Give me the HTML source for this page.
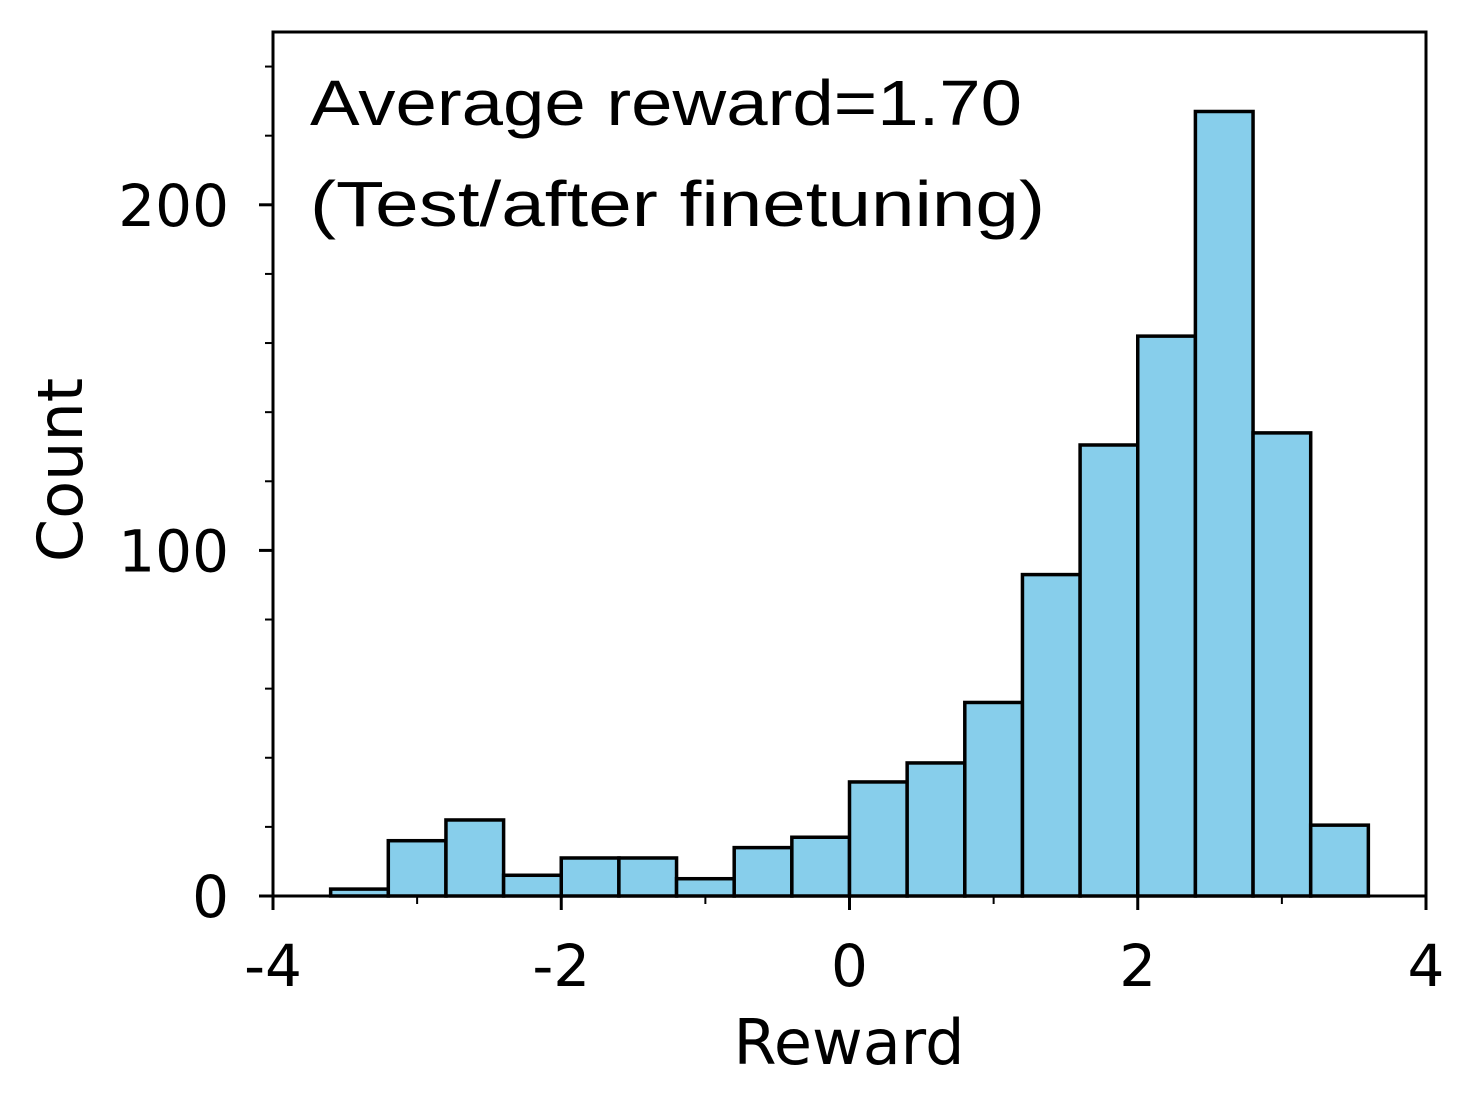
<!DOCTYPE html>
<html><head><meta charset="utf-8"><style>
html,body{margin:0;padding:0;background:#fff;}
svg{display:block;}
</style></head><body>
<svg id="chart" width="1480" height="1109" xmlns="http://www.w3.org/2000/svg">
<text x="310" y="125" font-family="Liberation Sans, sans-serif" font-size="64" textLength="712" lengthAdjust="spacingAndGlyphs">Average reward=1.70</text>
<text x="310" y="226" font-family="Liberation Sans, sans-serif" font-size="64" textLength="735" lengthAdjust="spacingAndGlyphs">(Test/after finetuning)</text>
<text x="849" y="1064" text-anchor="middle" font-family="DejaVu Sans, sans-serif" font-size="62">Reward</text>
<text transform="translate(82,470) rotate(-90)" text-anchor="middle" font-family="DejaVu Sans, sans-serif" font-size="62">Count</text>
</svg>
<script>
const binStarts = [-3.6,-3.2,-2.8,-2.4,-2.0,-1.6,-1.2,-0.8,-0.4,0.0,0.4,0.8,1.2,1.6,2.0,2.4,2.8,3.2];
const counts = [2,16,22,6,11,11,5,14,17,33,38.5,56,93,130.5,162,227,134,20.5];
const binWidth = 0.4;
const xTicks = [-4,-2,0,2,4];
const xTickLabels = ["-4","-2","0","2","4"];
const xMinor = [-3,-1,1,3];
const yTicks = [0,100,200];
const yTickLabels = ["0","100","200"];
const yMinor = [20,40,60,80,120,140,160,180,220,240];

const L=273,R=1426,T=32,B=896;
const xmin=-4,xmax=4,ymin=0,ymax=250;
const sx=v=>L+(v-xmin)/(xmax-xmin)*(R-L);
const sy=v=>B-(v-ymin)/(ymax-ymin)*(B-T);
const svg=document.getElementById('chart');
const NS='http://www.w3.org/2000/svg';
function mk(tag,attrs){const e=document.createElementNS(NS,tag);for(const k in attrs)e.setAttribute(k,attrs[k]);svg.appendChild(e);return e;}

binStarts.forEach((s,i)=>{
  const x0=sx(s),x1=sx(s+binWidth),y=sy(counts[i]);
  const r=mk('rect',{x:x0,y:y,width:x1-x0,height:B-y,fill:'#87ceeb',stroke:'#000','stroke-width':3.5});
  
  
});
const frame=mk('rect',{x:L,y:T,width:R-L,height:B-T,fill:'none',stroke:'#000','stroke-width':3});



xTicks.forEach((v,i)=>{
  const t=mk('line',{x1:sx(v),x2:sx(v),y1:B,y2:B+14,stroke:'#000','stroke-width':3});
  
  
  const tx=mk('text',{x:sx(v),y:B+90,'text-anchor':'middle','font-family':'DejaVu Sans, sans-serif','font-size':58});
  tx.textContent=xTickLabels[i];
  
  
});
xMinor.forEach(v=>{
  const t=mk('line',{x1:sx(v),x2:sx(v),y1:B,y2:B+8,stroke:'#000','stroke-width':2});
  
  
});
yTicks.forEach((v,i)=>{
  const t=mk('line',{x1:L-14,x2:L,y1:sy(v),y2:sy(v),stroke:'#000','stroke-width':3});
  
  
  const tx=mk('text',{x:L-44,y:sy(v)+21,'text-anchor':'end','font-family':'DejaVu Sans, sans-serif','font-size':58});
  tx.textContent=yTickLabels[i];
  
  
});
yMinor.forEach(v=>{
  const t=mk('line',{x1:L-8,x2:L,y1:sy(v),y2:sy(v),stroke:'#000','stroke-width':2});
  
  
});
</script>
</body></html>
